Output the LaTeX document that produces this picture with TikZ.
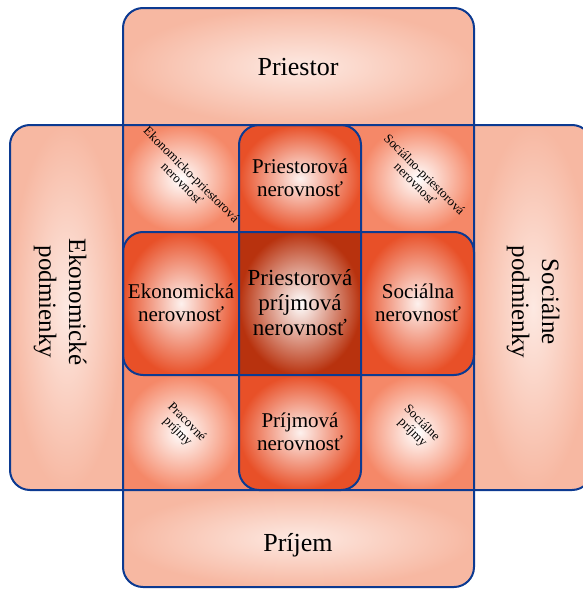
\documentclass[tikz,border=0pt]{standalone}
\usepackage{fontspec}
\setmainfont{Liberation Serif}
\usepackage{tikz}
\usetikzlibrary{calc}

\definecolor{paleOut}{RGB}{247,184,162}
\definecolor{paleIn}{RGB}{253,233,226}
\definecolor{cornerOut}{RGB}{245,136,104}
\definecolor{armOut}{RGB}{232,80,40}
\definecolor{midOut}{RGB}{184,50,14}
\definecolor{frameBlue}{RGB}{12,58,145}

\begin{document}
\begin{tikzpicture}[x=1pt, y=-1pt,
    frame/.style={draw=frameBlue, line width=2pt, rounded corners=20pt},
    pale/.style={inner color=paleIn, outer color=paleOut},
    corner/.style={inner color=white, outer color=cornerOut},
    arm/.style={inner color=white!92!armOut, outer color=armOut},
    middle/.style={inner color=white, outer color=midOut},
    bigText/.style={font=\fontsize{26}{30}\selectfont, align=center},
    sideText/.style={font=\fontsize{25}{30}\selectfont, align=center, rotate=-90},
    armText/.style={font=\fontsize{21}{23}\selectfont, align=center},
    midText/.style={font=\fontsize{23}{25}\selectfont, align=center},
    smallText/.style={font=\fontsize{13}{13}\selectfont, align=center, rotate=-45}]
    \useasboundingbox (0,0) rectangle (582,589);

    % Grid of the cross
    \pgfmathsetmacro{\xa}{10}  \pgfmathsetmacro{\xb}{123} \pgfmathsetmacro{\xc}{239}
    \pgfmathsetmacro{\xd}{361} \pgfmathsetmacro{\xe}{474} \pgfmathsetmacro{\xf}{592}
    \pgfmathsetmacro{\ya}{8}   \pgfmathsetmacro{\yb}{125} \pgfmathsetmacro{\yc}{232}
    \pgfmathsetmacro{\yd}{375} \pgfmathsetmacro{\ye}{490} \pgfmathsetmacro{\yf}{587}

    % Priestor / Prijem
    \begin{scope}
        \clip [rounded corners=20pt] (\xb,\ya) rectangle (\xe,\yf);
        \shade [pale] (\xb,\ya) rectangle (\xe,\yb);
        \shade [pale] (\xb,\ye) rectangle (\xe,\yf);
    \end{scope}

    % Podmienky
    \begin{scope}
        \clip [rounded corners=20pt] (\xa,\yb) rectangle (\xf,\ye);
        \shade [pale] (\xa,\yb) rectangle (\xb,\ye);
        \shade [pale] (\xe,\yb) rectangle (\xf,\ye);
    \end{scope}

    % Corner cells
    \fill [cornerOut] (\xb,\yb) rectangle (\xe,\ye);
    \foreach \x/\X in {\xb/\xc, \xd/\xe}
        \foreach \y/\Y in {\yb/\yc, \yd/\ye}
            \shade [corner] (\x,\y) rectangle (\X,\Y);

    % Arms
    \begin{scope}
        \clip [rounded corners=20pt] (\xc,\yb) rectangle (\xd,\ye);
        \shade [arm] (\xc,\yb) rectangle (\xd,\yc);
        \shade [arm] (\xc,\yd) rectangle (\xd,\ye);
    \end{scope}
    \begin{scope}
        \clip [rounded corners=20pt] (\xb,\yc) rectangle (\xe,\yd);
        \shade [arm] (\xb,\yc) rectangle (\xc,\yd);
        \shade [arm] (\xd,\yc) rectangle (\xe,\yd);
    \end{scope}
    \shade [middle] (\xc,\yc) rectangle (\xd,\yd);

    % Frames
    \draw [frame] (\xb,\ya) rectangle (\xe,\yf);
    \draw [frame] (\xa,\yb) rectangle (\xf,\ye);
    \draw [frame] (\xc,\yb) rectangle (\xd,\ye);
    \draw [frame] (\xb,\yc) rectangle (\xe,\yd);

    % Labels
    \node [bigText] (priestor) at (298,67) {Priestor};
    \node [bigText] (prijem) at (298,545) {Príjem};
    \node [sideText] (ekonPodm) at (60,302) {Ekonomické\\podmienky};
    \node [sideText] (socPodm) at (533,302) {Sociálne\\podmienky};

    \node [armText] (priestNer) at (300,178) {Priestorová\\nerovnosť};
    \node [armText] (ekonNer) at (181,303) {Ekonomická\\nerovnosť};
    \node [armText] (socNer) at (418,303) {Sociálna\\nerovnosť};
    \node [armText] (prijNer) at (300,432) {Príjmová\\nerovnosť};
    \node [midText] (priestPrijNer) at (300,303) {Priestorová\\príjmová\\nerovnosť};

    \node [smallText] (ekonPriest) at (187,179) {Ekonomicko-priestorová\\nerovnosť};
    \node [smallText] (socPriest) at (420,179) {Sociálno-priestorová\\nerovnosť};
    \node [smallText] (pracPrij) at (182,427) {Pracovné\\príjmy};
    \node [smallText] (socPrij) at (417,428) {Sociálne\\príjmy};
\end{tikzpicture}
\end{document}
